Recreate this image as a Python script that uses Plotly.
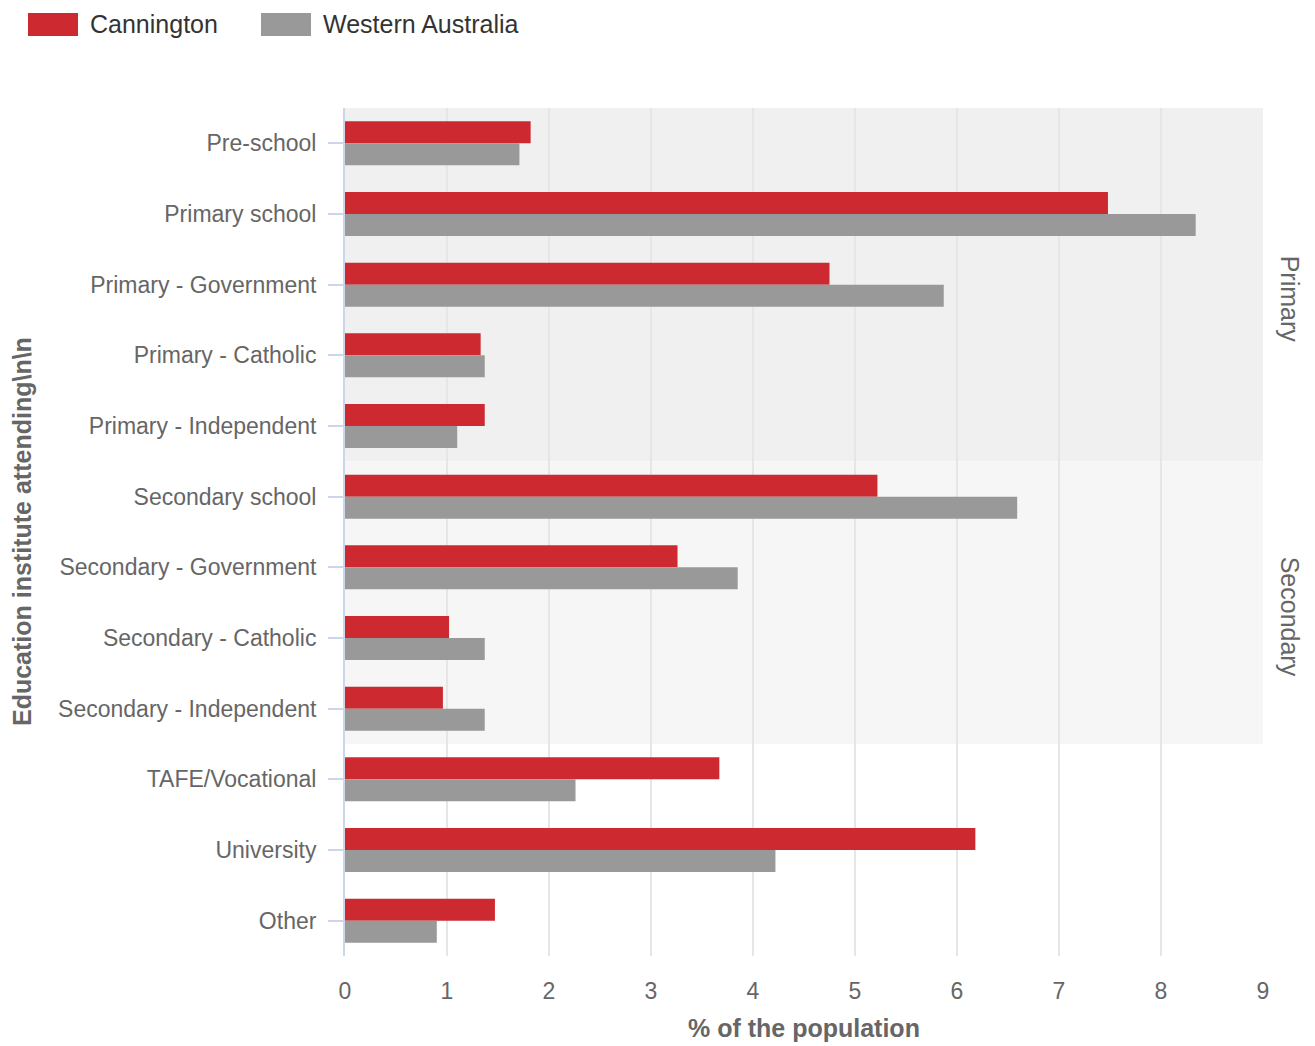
import plotly.graph_objects as go

categories = ["Pre-school", "Primary school", "Primary - Government", "Primary - Catholic",
              "Primary - Independent", "Secondary school", "Secondary - Government",
              "Secondary - Catholic", "Secondary - Independent", "TAFE/Vocational",
              "University", "Other"]
cannington = [1.82, 7.48, 4.75, 1.33, 1.37, 5.22, 3.26, 1.02, 0.96, 3.67, 6.18, 1.47]
western_australia = [1.71, 8.34, 5.87, 1.37, 1.10, 6.59, 3.85, 1.37, 1.37, 2.26, 4.22, 0.90]
x_ticks = [0, 1, 2, 3, 4, 5, 6, 7, 8, 9]
series_names = ["Cannington", "Western Australia"]
series_colors = ["#cc2a30", "#999999"]
bands = [("Primary", 0, 4, "#f0f0f0"), ("Secondary", 5, 8, "#f6f6f6")]

W, H = 1315, 1046
ML, MR, MT, MB = 345, 52, 108, 90
PW, PH = W - ML - MR, H - MT - MB

def px_x(px):
    return (px - ML) / PW

def px_y(py):
    return (H - MB - py) / PH

font_family = "Arial, 'Liberation Sans', Helvetica, sans-serif"

fig = go.Figure()
for name, vals, col in zip(series_names, [cannington, western_australia], series_colors):
    fig.add_trace(go.Bar(y=categories, x=vals, name=name, orientation="h",
                         marker=dict(color=col, line=dict(width=0)),
                         showlegend=False))

shapes = []
annotations = []
for label, i0, i1, col in bands:
    shapes.append(dict(type="rect", xref="x domain", yref="y", x0=0, x1=1,
                       y0=i0 - 0.5, y1=i1 + 0.5, fillcolor=col, line=dict(width=0),
                       layer="below"))
    annotations.append(dict(text=label, xref="paper", yref="y", x=px_x(1290),
                            y=(i0 + i1) / 2, yshift=-14, textangle=90, showarrow=False,
                            xanchor="center", yanchor="middle",
                            font=dict(size=25, color="#666666", family=font_family)))

# custom legend
leg = [(28, 78, 88), (261, 311, 321)]
for (x0, x1, tx), name, col in zip(leg, series_names, series_colors):
    shapes.append(dict(type="rect", xref="paper", yref="paper", x0=px_x(x0), x1=px_x(x1),
                       y0=px_y(36), y1=px_y(13), fillcolor=col, line=dict(width=0)))
    annotations.append(dict(text=name, xref="paper", yref="paper", x=px_x(tx), y=px_y(24.5),
                            xanchor="left", yanchor="middle", showarrow=False,
                            font=dict(size=25, color="#333333", family=font_family)))

annotations.append(dict(text="<b>Education institute attending\\n\\n</b>", xref="paper",
                        yref="paper", x=px_x(22), y=0.5, textangle=-90, showarrow=False,
                        xanchor="center", yanchor="middle",
                        font=dict(size=25, color="#666666", family=font_family)))
annotations.append(dict(text="<b>% of the population</b>", xref="paper", yref="paper",
                        x=0.5, y=px_y(1028), showarrow=False, xanchor="center",
                        yanchor="middle",
                        font=dict(size=25, color="#666666", family=font_family)))

fig.update_layout(
    width=W, height=H,
    margin=dict(l=ML, r=MR, t=MT, b=MB, autoexpand=False),
    paper_bgcolor="white", plot_bgcolor="white",
    barmode="group", bargap=0.378, bargroupgap=0,
    font=dict(family=font_family, color="#666666"),
    shapes=shapes, annotations=annotations,
    xaxis=dict(range=[0, 9], tickvals=x_ticks, showgrid=True, gridcolor="#e6e6e6",
               gridwidth=1.5, zeroline=False, showline=False, ticks="",
               tickfont=dict(size=23, color="#666666"), ticklabelstandoff=19,
               fixedrange=True),
    yaxis=dict(categoryorder="array", categoryarray=categories, autorange="reversed",
               showline=True, linecolor="#ccd6eb", linewidth=2, ticks="outside",
               ticklen=15, tickwidth=2, tickcolor="#ccd6eb", showgrid=False,
               tickfont=dict(size=23, color="#666666"), ticklabelstandoff=7,
               fixedrange=True),
)

fig.write_html("out.html", config={"displayModeBar": False},
               post_script="document.body.style.margin='0';document.body.style.overflow='hidden';")
